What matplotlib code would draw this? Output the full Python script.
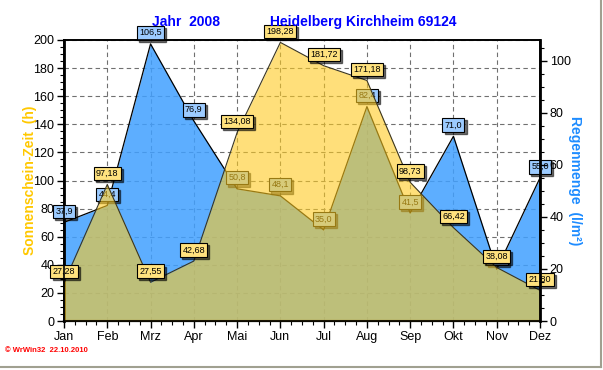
import numpy as np
import matplotlib.pyplot as plt
from matplotlib.ticker import MultipleLocator

plt.rcParams['font.family'] = ['Liberation Sans', 'DejaVu Sans']

# Daten 2008
monate = ["Jan", "Feb", "Mrz", "Apr", "Mai", "Jun", "Jul", "Aug", "Sep", "Okt", "Nov", "Dez"]
sonne = [27.28, 97.18, 27.55, 42.68, 134.08, 198.28, 181.72, 171.18, 98.73, 66.42, 38.08, 21.80]
regen = [37.9, 44.4, 106.5, 76.9, 50.8, 48.1, 35.0, 82.4, 41.5, 71.0, 19.9, 55.0]

SONNE_MAX = 200
REGEN_MAX = 108
faktor = SONNE_MAX / REGEN_MAX

# Farben
c_blau = "#41A0FF"
c_gelb = "#FFCB21"


def fmt(v, nd):
    return f"{v:.{nd}f}".replace(".", ",")


def label(ax, x, y, txt, face, z):
    # Schatten + Box
    ax.annotate(txt, (x, y), xytext=(1.5, 6.5), textcoords="offset points",
                ha="center", va="center", fontsize=6.5, color="black", zorder=z,
                bbox=dict(boxstyle="square,pad=0.25", fc="black", ec="black", alpha=0.55))
    ax.annotate(txt, (x, y), xytext=(0, 8), textcoords="offset points",
                ha="center", va="center", fontsize=6.5, color="black", zorder=z + 0.01,
                bbox=dict(boxstyle="square,pad=0.25", fc=face, ec="black", lw=0.8))


fig = plt.figure(figsize=(6.03, 3.70), dpi=100)
ax = fig.add_axes([64 / 603, 49 / 370, 476 / 603, 281 / 370])
ax2 = ax.twinx()

x = np.arange(len(monate))
sonne = np.array(sonne)
regen_s = np.array(regen) * faktor

# Gitter hinten
for xv in x:
    ax.axvline(xv, color="#707070", ls=(0, (4, 3)), lw=0.8, zorder=1)
for yv in range(20, 201, 20):
    ax.axhline(yv, color="#707070", ls=(0, (4, 3)), lw=0.8, zorder=1)

# Regen
ax.fill_between(x, 0, regen_s, color=c_blau, alpha=0.85, lw=0, zorder=2)
ax.plot(x, regen_s, color="black", lw=0.9, zorder=2.2)
for i in range(len(x)):
    label(ax, x[i], regen_s[i], fmt(regen[i], 1), "#9CCBFF", 2.5)

# Sonne (halbtransparent, ergibt oliv über Regen)
ax.fill_between(x, 0, sonne, color=c_gelb, alpha=0.6, lw=0, zorder=3)
ax.plot(x, sonne, color="#3A3520", lw=0.8, zorder=3.7)

for i in range(len(x)):
    label(ax, x[i], sonne[i], fmt(sonne[i], 2), "#FFE27E", 6)

# Achsen
ax.set_xlim(0, 11)
ax.set_ylim(0, SONNE_MAX)
ax2.set_ylim(0, REGEN_MAX)
ax.set_xticks(x)
ax.set_xticklabels(monate)
ax.set_yticks(range(0, 201, 20))
ax2.set_yticks(range(0, 101, 20))
ax.xaxis.set_minor_locator(MultipleLocator(0.25))
ax.yaxis.set_minor_locator(MultipleLocator(5))
ax2.yaxis.set_minor_locator(MultipleLocator(5))
for a in (ax, ax2):
    a.tick_params(which="major", direction="out", length=5, width=1, labelsize=9, pad=2)
    a.tick_params(which="minor", direction="out", length=3, width=0.8)
    for s in a.spines.values():
        s.set_linewidth(1.2)
ax.spines["left"].set_linewidth(2)
ax2.spines["right"].set_linewidth(2)
ax.spines["bottom"].set_linewidth(1.6)

ax.set_ylabel("Sonnenschein-Zeit  (h)", color="#FFC800", fontsize=10, fontweight="bold", labelpad=-3)
ax2.set_ylabel("Regenmenge  (l/m²)", color="#1E8CFF", fontsize=10, fontweight="bold",
               rotation=-90, labelpad=8)

# Titel
fig.text(186 / 603, 1 - 22 / 370, "Jahr  2008", color="#0000FF", fontsize=10,
         fontweight="bold", ha="center", va="center")
fig.text(270 / 603, 1 - 22 / 370, "Heidelberg Kirchheim 69124", color="#0000FF", fontsize=10,
         fontweight="bold", ha="left", va="center")
fig.text(5 / 603, 1 - 351 / 370, "© WrWin32  22.10.2010", color="#FF0000", fontsize=5.5,
         fontweight="bold", ha="left", va="center")

# Fensterrand
fig.add_artist(plt.Line2D([601 / 603, 601 / 603], [1 - 367 / 370, 1], color="#A0A090", lw=1.5,
                          transform=fig.transFigure))
fig.add_artist(plt.Line2D([0, 601 / 603], [1 - 367 / 370, 1 - 367 / 370], color="#A0A090", lw=1.5,
                          transform=fig.transFigure))

fig.savefig("out.png", dpi=100)
